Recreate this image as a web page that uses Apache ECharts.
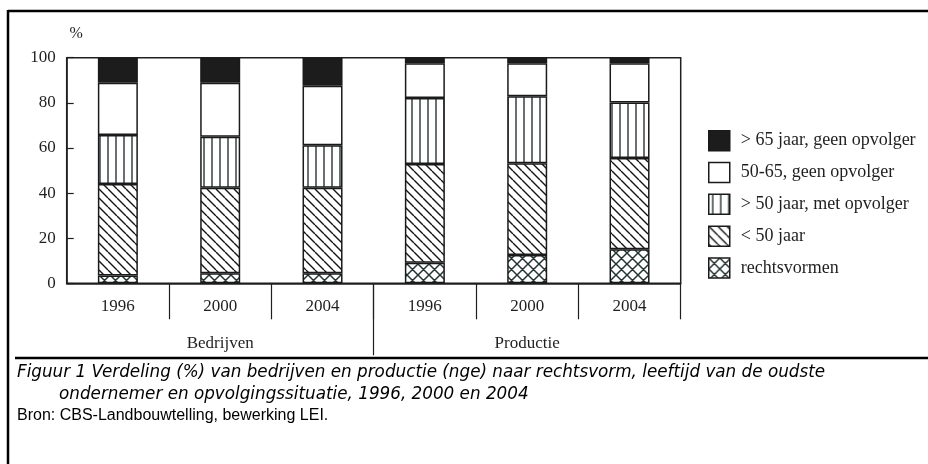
<!DOCTYPE html>
<html><head><meta charset="utf-8">
<script src="https://cdn.jsdelivr.net/npm/echarts@6/dist/echarts.min.js"></script>
<style>html,body{margin:0;padding:0;background:#fff}#c{width:928px;height:464px}</style>
</head><body><div id="c"></div>
<script>
// ---- data ----
const years = ['1996', '2000', '2004', '1996', '2000', '2004'];
const groups = ['Bedrijven', 'Productie'];
const nameRechts = 'rechtsvormen';
const nameOnder50 = '< 50 jaar';
const nameBoven50Met = '> 50 jaar, met opvolger';
const name5065 = '50-65, geen opvolger';
const nameBoven65 = '> 65 jaar, geen opvolger';
const rechtsvormen = [3.5, 4.4, 4.5, 9.1, 12.5, 15.1];
const onder50 = [40.5, 38.0, 37.9, 43.8, 40.7, 40.4];
const boven50Met = [21.7, 22.6, 18.8, 29.2, 29.7, 24.6];
const geen5065 = [23.2, 23.9, 26.4, 15.4, 14.6, 17.4];
const boven65Geen = [11.1, 11.1, 12.4, 2.5, 2.5, 2.5];
const yMin = 0, yMax = 100, yStep = 20;
const yUnit = '%';
const captionLine1 = 'Figuur 1 Verdeling (%) van bedrijven en productie (nge) naar rechtsvorm, leeftijd van de oudste';
const captionLine2 = 'ondernemer en opvolgingssituatie, 1996, 2000 en 2004';
const sourceLine = 'Bron: CBS-Landbouwtelling, bewerking LEI.';

// ---- patterns ----
function tile(s, draw) {
  const c = document.createElement('canvas');
  c.width = s; c.height = s;
  const g = c.getContext('2d');
  g.fillStyle = '#fff'; g.fillRect(0, 0, s, s);
  draw(g, s);
  return { image: c, repeat: 'repeat' };
}
const patVert = tile(8, (g, s) => {
  g.strokeStyle = '#344242'; g.lineWidth = 1.5;
  g.beginPath(); g.moveTo(4, 0); g.lineTo(4, s); g.stroke();
});
const patDiag = tile(9, (g, s) => {
  g.strokeStyle = '#141414'; g.lineWidth = 1.4;
  g.beginPath();
  for (let k = -1; k <= 1; k++) { g.moveTo(k * s, 0); g.lineTo(k * s + s, s); }
  g.stroke();
});
const patCross = tile(11, (g, s) => {
  g.strokeStyle = '#263434'; g.lineWidth = 1.5;
  g.beginPath();
  for (let k = -1; k <= 1; k++) {
    g.moveTo(k * s, 0); g.lineTo(k * s + s, s);
    g.moveTo(k * s + s, 0); g.lineTo(k * s, s);
  }
  g.stroke();
});

const serif = 'Liberation Serif';
const ink = '#1f1f1f';

function barSeries(name, data, color) {
  return {
    name, type: 'bar', stack: 'total', data,
    xAxisIndex: 0, yAxisIndex: 0, barWidth: 40,
    itemStyle: { color, borderColor: '#1a1a1a', borderWidth: 1.5 },
    emphasis: { disabled: true }
  };
}

const chart = echarts.init(document.getElementById('c'), null, { renderer: 'canvas' });
chart.setOption({
  animation: false,
  backgroundColor: '#fff',
  grid: [
    { left: 66.7, right: 247.3, top: 57.7, bottom: 180.7, show: true, borderColor: ink, borderWidth: 1.5, backgroundColor: 'transparent' },
    { left: 66.7, right: 247.3, top: 283.3, height: 72 }
  ],
  xAxis: [
    {
      type: 'category', gridIndex: 0, data: years,
      axisLine: { lineStyle: { color: ink, width: 1.5 } },
      axisTick: { show: true, length: 36, interval: (i) => i !== 0, lineStyle: { color: ink, width: 1.2 } },
      axisLabel: { margin: 15, color: ink, fontFamily: serif, fontSize: 17, interval: 0 }
    },
    {
      type: 'category', gridIndex: 1, data: groups,
      axisLine: { show: false }, axisTick: { show: false },
      splitLine: { show: true, showMinLine: false, showMaxLine: false, lineStyle: { color: ink, width: 1.2 } },
      axisLabel: { inside: true, margin: 3, color: ink, fontFamily: serif, fontSize: 17 }
    }
  ],
  yAxis: [
    {
      type: 'value', gridIndex: 0, min: yMin, max: yMax, interval: yStep,
      name: yUnit, nameLocation: 'end', nameGap: 16,
      nameTextStyle: { color: ink, fontFamily: serif, fontSize: 16, padding: [0, 0, 0, 19] },
      axisLine: { show: true, lineStyle: { color: ink, width: 1.5 } },
      axisTick: { show: true, inside: true, length: 7, lineStyle: { color: ink, width: 1.2 } },
      axisLabel: { margin: 11, color: ink, fontFamily: serif, fontSize: 17 },
      splitLine: { show: false }
    },
    { type: 'value', gridIndex: 1, show: false }
  ],
  legend: {
    orient: 'vertical', left: 703, top: 125,
    itemWidth: 21, itemHeight: 20, itemGap: 10.3, icon: 'rect',
    data: [nameBoven65, name5065, nameBoven50Met, nameOnder50, nameRechts],
    itemStyle: { borderColor: '#1a1a1a', borderWidth: 1.5 },
    textStyle: { color: ink, fontFamily: serif, fontSize: 18, padding: [0, 0, 0, 6] },
    selectedMode: false
  },
  series: [
    barSeries(nameRechts, rechtsvormen, patCross),
    barSeries(nameOnder50, onder50, patDiag),
    barSeries(nameBoven50Met, boven50Met, patVert),
    barSeries(name5065, geen5065, '#ffffff'),
    barSeries(nameBoven65, boven65Geen, '#1c1c1c')
  ],
  graphic: [
    { type: 'line', shape: { x1: 8, y1: 11, x2: 928, y2: 11 }, style: { stroke: '#000', lineWidth: 2.5 } },
    { type: 'line', shape: { x1: 8, y1: 10, x2: 8, y2: 464 }, style: { stroke: '#000', lineWidth: 2.5 } },
    { type: 'line', shape: { x1: 15, y1: 358, x2: 928, y2: 358 }, style: { stroke: '#000', lineWidth: 2.5 } },
    { type: 'text', left: 17, top: 364, style: { text: captionLine1, fill: '#000', font: 'italic 16.8px "DejaVu Sans"' } },
    { type: 'text', left: 59, top: 386, style: { text: captionLine2, fill: '#000', font: 'italic 16.8px "DejaVu Sans"' } },
    { type: 'text', left: 17, top: 408, style: { text: sourceLine, fill: '#000', font: '16px "Liberation Sans"' } }
  ]
});
</script>
</body></html>
